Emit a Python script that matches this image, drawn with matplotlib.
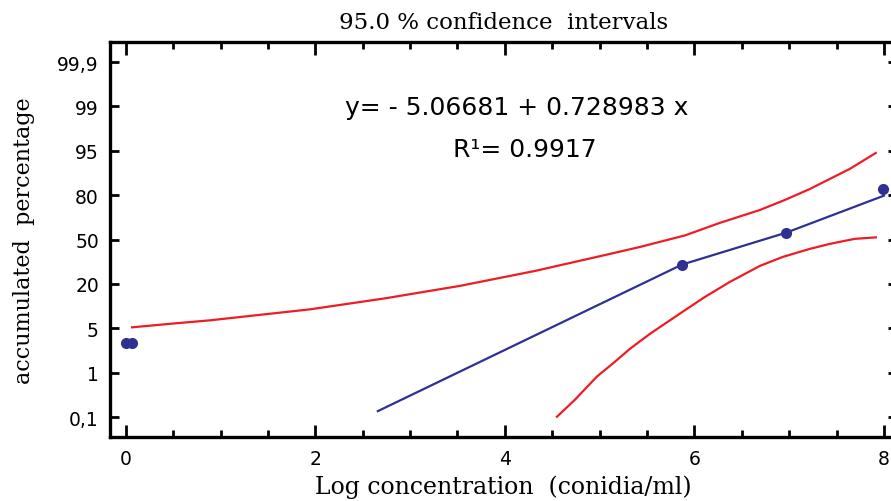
import matplotlib
matplotlib.use("Agg")
import matplotlib.pyplot as plt
from matplotlib.ticker import FixedLocator, MultipleLocator, NullLocator
import numpy as np

# Escala de percentagem (eixo y tipo probit, com marcas equidistantes)
pct_ticks = [0.1, 1, 5, 20, 50, 80, 95, 99, 99.9]
pct_labels = ["0,1", "1", "5", "20", "50", "80", "95", "99", "99,9"]

# Pontos observados
obs_x = [0.0, 0.07, 5.87, 6.97, 7.99]
obs_y = [3.7, 3.7, 33.1, 54.7, 82.1]

# Reta ajustada
fit_x = [2.66, 5.87, 6.97, 8.0]
fit_y = [0.22, 33.1, 54.7, 79.7]

# Limite superior do intervalo de 95%
upper_x = [0.066, 0.467, 0.889, 1.417, 1.944, 2.736, 3.527, 4.318, 5.109,
           5.425, 5.900, 6.269, 6.691, 6.955, 7.218, 7.640, 7.915]
upper_y = [5.33, 6.52, 7.70, 9.56, 11.41, 15.13, 19.35, 28.8, 40.3,
           45.0, 52.8, 61.3, 70.0, 76.8, 82.1, 88.9, 94.3]

# Limite inferior do intervalo de 95%
lower_x = [4.550, 4.739, 4.971, 5.161, 5.320, 5.531, 5.890, 6.111,
           6.375, 6.691, 6.934, 7.218, 7.429, 7.693, 7.915]
lower_y = [0.106, 0.45, 0.92, 1.98, 3.15, 4.50, 10.9, 15.6,
           21.4, 32.2, 38.3, 43.7, 47.1, 50.5, 51.5]

pos_ticks = np.arange(len(pct_ticks), dtype=float)


def pct_to_pos(p):
    p = np.asarray(p, dtype=float)
    pos = np.interp(p, pct_ticks, pos_ticks)
    pos = np.where(p < pct_ticks[0], (p - pct_ticks[0]) / (pct_ticks[1] - pct_ticks[0]), pos)
    pos = np.where(p > pct_ticks[-1],
                   pos_ticks[-1] + (p - pct_ticks[-1]) / (pct_ticks[-1] - pct_ticks[-2]), pos)
    return pos


def pos_to_pct(v):
    v = np.asarray(v, dtype=float)
    p = np.interp(v, pos_ticks, pct_ticks)
    p = np.where(v < 0, pct_ticks[0] + v * (pct_ticks[1] - pct_ticks[0]), p)
    p = np.where(v > pos_ticks[-1],
                 pct_ticks[-1] + (v - pos_ticks[-1]) * (pct_ticks[-1] - pct_ticks[-2]), p)
    return p


red = "#ee1c24"
blue = "#2e3192"

fig = plt.figure(figsize=(8.91, 5.02), dpi=100)
ax = fig.add_axes([0.1235, 0.1275, 0.883, 0.7865])
ax.set_yscale("function", functions=(pct_to_pos, pos_to_pct))

ax.plot(upper_x, upper_y, color=red, linewidth=1.6, solid_joinstyle="round")
ax.plot(lower_x, lower_y, color=red, linewidth=1.6, solid_joinstyle="round")
ax.plot(fit_x, fit_y, color=blue, linewidth=1.6, solid_joinstyle="round")
ax.plot(obs_x, obs_y, "o", color=blue, markersize=7, linestyle="none")

ax.set_xlim(-0.166, 8.136)
ax.set_ylim(pos_to_pct(-0.45), pos_to_pct(8.45))

ax.xaxis.set_major_locator(MultipleLocator(2))
ax.xaxis.set_minor_locator(MultipleLocator(0.5))
ax.yaxis.set_major_locator(FixedLocator(pct_ticks))
ax.yaxis.set_minor_locator(NullLocator())
ax.set_yticklabels(pct_labels)

for s in ax.spines.values():
    s.set_linewidth(2.4)
ax.tick_params(axis="both", which="both", direction="in", top=True, right=True,
               width=2.0, labelsize=13.5, colors="black")
ax.tick_params(axis="x", which="major", length=9, pad=9)
ax.tick_params(axis="x", which="minor", length=5)
ax.tick_params(axis="y", which="major", length=6.5, pad=8)

ax.set_xlabel("Log concentration  (conidia/ml)", family="DejaVu Serif", fontsize=17, labelpad=4)
ax.set_ylabel("accumulated  percentage", family="DejaVu Serif", fontsize=16, labelpad=16)
ax.set_title("95.0 % confidence  intervals", family="DejaVu Serif", fontsize=16.5, pad=10)

fig.text(517 / 891, 1 - 108 / 502, "y= - 5.06681 + 0.728983 x", ha="center", va="center", fontsize=18)
fig.text(525 / 891, 1 - 150 / 502, "R\u00b9= 0.9917", ha="center", va="center", fontsize=18)

plt.savefig("out.png", dpi=100)
